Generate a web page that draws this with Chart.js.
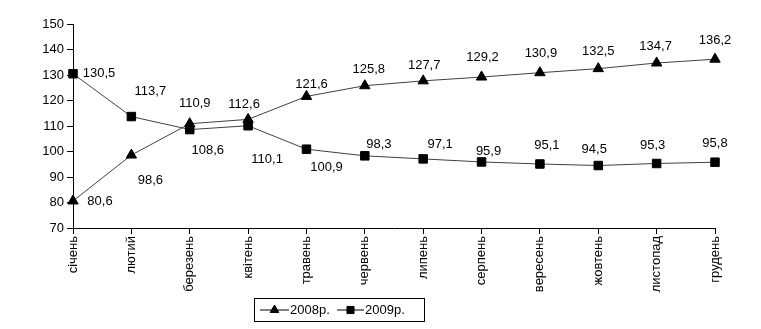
<!DOCTYPE html>
<html>
<head>
<meta charset="utf-8">
<script src="https://cdn.jsdelivr.net/npm/chart.js@4/dist/chart.umd.min.js"></script>
<style>
html,body{margin:0;padding:0;background:#fff;}
#wrap{width:761px;height:329px;}
</style>
</head>
<body>
<div id="wrap"><canvas id="c" width="761" height="329"></canvas></div>
<script>
const categories = ['січень','лютий','березень','квітень','травень','червень','липень','серпень','вересень','жовтень','листопад','грудень'];
const series2008 = [80.6, 98.6, 110.9, 112.6, 121.6, 125.8, 127.7, 129.2, 130.9, 132.5, 134.7, 136.2];
const series2009 = [130.5, 113.7, 108.6, 110.1, 100.9, 98.3, 97.1, 95.9, 95.1, 94.5, 95.3, 95.8];
const seriesNames = ['2008р.', '2009р.'];
const yTicks = [70, 80, 90, 100, 110, 120, 130, 140, 150];

const FONT = 'Liberation Sans, Arial, sans-serif';

// label placement offsets (style only)
const labelOffsets = [
  [[27,0],[19,25],[5,-20],[-4,-15],[5,-12],[4,-16],[1,-15],[1,-20],[1,-19],[0,-17],[-1,-17],[0,-19]],
  [[26,0],[19,-25],[18,21],[19,34],[20,18],[14,-11],[17,-14],[7,-11],[7,-19],[-4,-16],[-4,-18],[0,-19]]
];

const labelPlugin = {
  id: 'valueLabels',
  afterDatasetsDraw(chart) {
    const ctx = chart.ctx;
    ctx.save();
    ctx.font = '13px ' + FONT;
    ctx.fillStyle = '#000';
    ctx.textAlign = 'center';
    ctx.textBaseline = 'middle';
    chart.data.datasets.forEach((ds, di) => {
      const meta = chart.getDatasetMeta(di);
      meta.data.forEach((pt, i) => {
        const off = labelOffsets[di][i];
        const txt = ds.data[i].toFixed(1).replace('.', ',');
        ctx.fillText(txt, pt.x + off[0], pt.y + off[1]);
      });
    });
    ctx.restore();
  }
};

const legendPlugin = {
  id: 'boxLegend',
  afterDraw(chart) {
    const ctx = chart.ctx;
    ctx.save();
    const bx = 254, by = 298, bw = 170, bh = 23;
    ctx.strokeStyle = '#000';
    ctx.lineWidth = 1;
    ctx.strokeRect(bx + 0.5, by + 0.5, bw, bh);
    const cy = by + bh / 2 + 0.5;
    const items = [
      {x1: 260, x2: 289, style: 'triangle', tx: 290},
      {x1: 337, x2: 364, style: 'rect', tx: 365}
    ];
    ctx.font = '13px ' + FONT;
    ctx.textBaseline = 'middle';
    ctx.textAlign = 'left';
    items.forEach((it, i) => {
      ctx.strokeStyle = '#000';
      ctx.beginPath();
      ctx.moveTo(it.x1, cy);
      ctx.lineTo(it.x2, cy);
      ctx.stroke();
      Chart.helpers.drawPoint(ctx, {pointStyle: it.style, radius: 5, borderWidth: 1, rotation: 0}, (it.x1 + it.x2) / 2, cy);
      ctx.fillStyle = '#000';
      ctx.fillText(seriesNames[i], it.tx, cy);
    });
    ctx.restore();
  }
};

new Chart(document.getElementById('c'), {
  type: 'line',
  data: {
    labels: categories,
    datasets: [
      {
        label: seriesNames[0],
        data: series2008,
        borderColor: '#404040',
        borderWidth: 1,
        pointStyle: 'triangle',
        pointRadius: 6,
        pointBackgroundColor: '#000',
        pointBorderColor: '#000',
        pointBorderWidth: 1,
        tension: 0,
        fill: false
      },
      {
        label: seriesNames[1],
        data: series2009,
        borderColor: '#404040',
        borderWidth: 1,
        pointStyle: 'rect',
        pointRadius: 6,
        pointBackgroundColor: '#000',
        pointBorderColor: '#000',
        pointBorderWidth: 1,
        tension: 0,
        fill: false
      }
    ]
  },
  options: {
    responsive: false,
    animation: false,
    devicePixelRatio: 1,
    layout: { padding: { top: 24, right: 46, left: 0, bottom: 0 } },
    plugins: { legend: { display: false }, tooltip: { enabled: false } },
    scales: {
      x: {
        type: 'category',
        offset: false,
        grid: { display: true, drawOnChartArea: false, drawTicks: true, tickLength: 6, color: '#000' },
        border: { display: true, color: '#000', width: 1 },
        ticks: { color: '#000', font: { family: FONT, size: 13 }, minRotation: 90, maxRotation: 90, autoSkip: false, padding: 2 },
        afterFit(s) { s.height = 101; }
      },
      y: {
        min: 70, max: 150,
        afterBuildTicks(s) { s.ticks = yTicks.map(v => ({ value: v })); },
        grid: { display: true, drawOnChartArea: false, drawTicks: true, tickLength: 6, color: '#000' },
        border: { display: true, color: '#000', width: 1 },
        ticks: { color: '#000', font: { family: FONT, size: 13 }, padding: 3 },
        afterFit(s) { s.width = 73; }
      }
    }
  },
  plugins: [labelPlugin, legendPlugin]
});
</script>
</body>
</html>
